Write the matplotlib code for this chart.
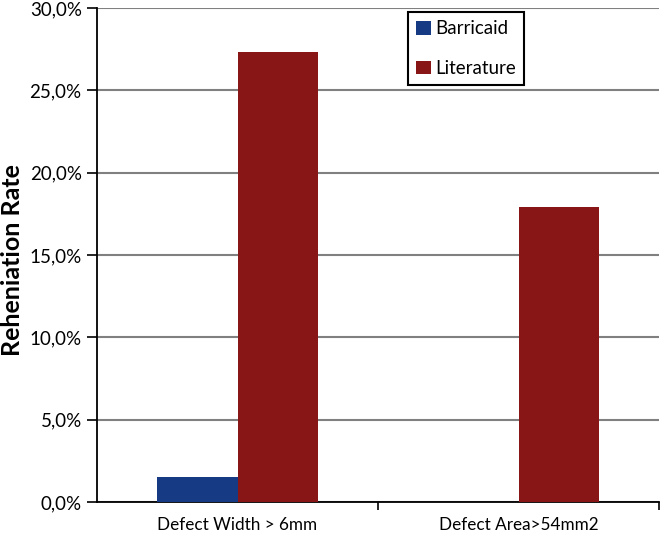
import matplotlib
matplotlib.use("Agg")
import matplotlib.pyplot as plt
import numpy as np
from matplotlib.ticker import FuncFormatter, FixedLocator

categories = ["Defect Width > 6mm", "Defect Area>54mm2"]
barricaid = [1.5, 0.0]
literature = [27.3, 17.9]
series_names = ["Barricaid", "Literature"]
colors = ["#173a85", "#891616"]

plt.rcParams['font.family'] = ['Lato', 'DejaVu Sans']

fig = plt.figure(figsize=(6.61, 5.34), dpi=100)
ax = fig.add_axes([97/661, 1-502/534, 562/661, 494/534])

x = np.arange(len(categories))
w = 0.288
ax.bar(x - w/2, barricaid, w, color=colors[0], label=series_names[0], zorder=3)
ax.bar(x + w/2, literature, w, color=colors[1], label=series_names[1], zorder=3)

ax.set_xlim(-0.5, len(categories) - 0.5)
ax.set_ylim(0, 30)
ax.set_yticks(np.arange(0, 31, 5))
ax.yaxis.set_major_formatter(FuncFormatter(lambda v, p: f"{v:.1f}%".replace('.', ',')))
ax.grid(axis='y', color='#808080', linewidth=1.5, zorder=0)

ax.set_xticks(x)
ax.set_xticklabels(categories, fontsize=12.3)
ax.tick_params(axis='x', length=0, pad=11)
ax.xaxis.set_minor_locator(FixedLocator([0.5, 1.5]))
ax.tick_params(axis='x', which='minor', length=6, width=1.2, color='black')
ax.tick_params(axis='y', length=7, width=1.2, labelsize=13.5, pad=4)

for s in ['top', 'right']:
    ax.spines[s].set_visible(False)
for s in ['left', 'bottom']:
    ax.spines[s].set_linewidth(1.3)
    ax.spines[s].set_color('black')

fig.text(13/661, 1-260/534, "Reheniation Rate", rotation=90, fontsize=18,
         fontweight='bold', ha='center', va='center')

leg = ax.legend(loc='upper left', bbox_to_anchor=(408/661, 1-12/534), bbox_transform=fig.transFigure,
                fancybox=False, framealpha=1, edgecolor='black', fontsize=13.5,
                handlelength=0.75, handleheight=0.75, handletextpad=0.25, labelspacing=1.2,
                borderpad=0.45, borderaxespad=0)
leg.get_frame().set_linewidth(1.5)

fig.savefig("out.png", dpi=100)
